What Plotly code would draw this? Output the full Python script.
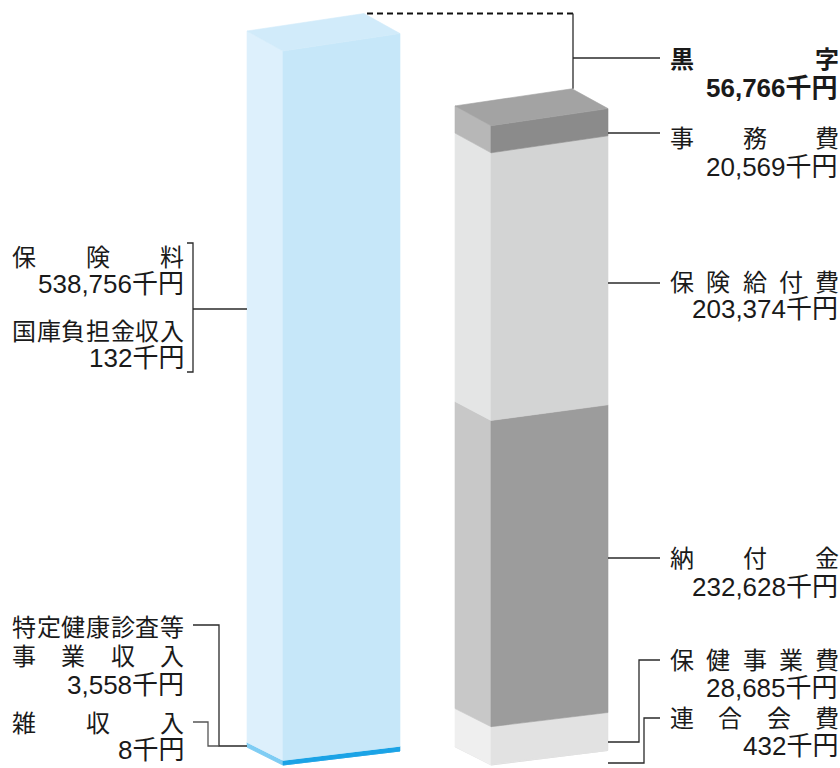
import plotly.graph_objects as go

# ---------------- data (千円) ----------------
income_labels = ["保険料", "国庫負担金収入", "特定健康診査等事業収入", "雑収入"]
income_values = [538756, 132, 3558, 8]
income_value_text = ["538,756千円", "132千円", "3,558千円", "8千円"]

expense_labels = ["事務費", "保険給付費", "納付金", "保健事業費", "連合会費"]
expense_values = [20569, 203374, 232628, 28685, 432]
expense_value_text = ["20,569千円", "203,374千円", "232,628千円", "28,685千円", "432千円"]

surplus_label = "黒字"
surplus_value = 56766
surplus_value_text = "56,766千円"

# ---------------- styles ----------------
income_front = {"保険料": "#C6E7F9", "国庫負担金収入": "#C6E7F9",
                "特定健康診査等事業収入": "#1BA3E6", "雑収入": "#1BA3E6"}
income_side = {"保険料": "#DDF0FC", "国庫負担金収入": "#DDF0FC",
               "特定健康診査等事業収入": "#7FCDF4", "雑収入": "#7FCDF4"}
income_top = "#D1EBFA"

expense_front = {"事務費": "#8B8B8B", "保険給付費": "#D3D4D4", "納付金": "#9C9C9C",
                 "保健事業費": "#E2E2E2", "連合会費": "#D8D8D8"}
expense_side = {"事務費": "#B7B7B7", "保険給付費": "#E4E5E5", "納付金": "#C8C8C8",
                "保健事業費": "#EFEFEF", "連合会費": "#E8E8E8"}
expense_top = "#A3A3A3"

FONT = "Liberation Sans, Noto Sans CJK JP, sans-serif"
FS = 24
FSV = 26
TXT = "#1a1a1a"
LINE = "#2a2a2a"

W, H = 840, 768
BASE_PX = 765.0          # pixel row of value 0
TOTAL_PX = 714.0         # pixel height of the income total
total_income = sum(income_values)
k = TOTAL_PX / total_income          # px per 千円


def px2v(py):
    return (BASE_PX - py) / k


def slope_v(v):   # rise of front face's right edge (perspective), in value units
    return (14.0 + 3.5 * v / total_income) / k


def depth_v(v):   # rise of side face's back edge, in value units
    return (18.0 + 2.0 * v / total_income) / k


fig = go.Figure()


def add_poly(xs, ys, color):
    fig.add_trace(go.Scatter(x=xs + [xs[0]], y=ys + [ys[0]], mode="lines", fill="toself",
                             fillcolor=color, line=dict(width=0.6, color=color),
                             hoverinfo="skip", showlegend=False))


def draw_bar(x_side, x_front, x_right, labels, values, fronts, sides, top_color):
    v0 = 0.0
    segs = []
    for lab, val in zip(labels, values):
        segs.append((lab, v0, v0 + val))
        v0 += val
    for lab, a, b in segs:
        add_poly([x_side, x_front, x_front, x_side],
                 [a + depth_v(a), a, b, b + depth_v(b)], sides[lab])
    for lab, a, b in segs:
        add_poly([x_front, x_right, x_right, x_front],
                 [a, a + slope_v(a), b + slope_v(b), b], fronts[lab])
    t = v0
    add_poly([x_side, x_front, x_right, x_right - (x_front - x_side)],
             [t + depth_v(t), t, t + slope_v(t), t + slope_v(t) + depth_v(t)], top_color)
    return t


# income bar: stacked bottom -> top
inc_order = list(reversed(income_labels))
inc_vals = [income_values[income_labels.index(l)] for l in inc_order]
top_in = draw_bar(247, 283, 400, inc_order, inc_vals, income_front, income_side, income_top)

# expense bar: stacked bottom -> top
exp_order = list(reversed(expense_labels))
exp_vals = [expense_values[expense_labels.index(l)] for l in exp_order]
top_ex = draw_bar(455, 491, 608, exp_order, exp_vals, expense_front, expense_side, expense_top)

# ---------------- leader lines ----------------
def path(points, color=LINE, width=1.3, dash=None):
    d = "M " + " L ".join(f"{x},{px2v(y)}" for x, y in points)
    ln = dict(color=color, width=width)
    if dash:
        ln["dash"] = dash
    fig.add_shape(type="path", path=d, xref="x", yref="y", line=ln)


# surplus: dashed line from income top back corner to above expense bar
back_in_y = BASE_PX - k * (top_in + slope_v(top_in) + depth_v(top_in))
back_ex_y = BASE_PX - k * (top_ex + slope_v(top_ex) + depth_v(top_ex))
path([(367, back_in_y), (573, back_in_y)], color="#111", width=2, dash="6px,4px")
path([(573, back_in_y), (573, back_ex_y)])
path([(573, 58), (660, 58)])

# left side
path([(187, 243), (193, 243), (193, 372), (187, 372)])
path([(193, 309), (247, 309)])
path([(193, 625), (219, 625), (219, 746), (247, 746)])
path([(193, 722), (208, 722), (208, 746), (219, 746)], color="#555")

# right side
path([(608, 133), (660, 133)])
path([(608, 283), (660, 283)])
path([(608, 558), (660, 558)])
path([(660, 660), (639, 660), (639, 742), (608, 742)])
path([(660, 718), (644, 718), (644, 763), (608, 763)])

# ---------------- text ----------------
def spread(text, x0, x1, y, bold=False):
    chars = list(text)
    n = len(chars)
    em = FS
    for i, ch in enumerate(chars):
        if n == 1:
            cx = x0 + em / 2
        else:
            cx = x0 + em / 2 + i * ((x1 - x0 - em) / (n - 1))
        fig.add_annotation(x=cx, y=px2v(y), xref="x", yref="y", text=f"<b>{ch}</b>" if bold else ch,
                           showarrow=False, xanchor="center", yanchor="middle", borderpad=0,
                           font=dict(family=FONT, size=FS, color=TXT))


def right_text(text, xr, y, bold=False):
    fig.add_annotation(x=xr, y=px2v(y), xref="x", yref="y", text=f"<b>{text}</b>" if bold else text,
                       showarrow=False, xanchor="right", yanchor="middle", borderpad=0,
                       font=dict(family=FONT, size=FSV, color=TXT))


LX0, LX1 = 12, 184
RX0, RX1 = 670, 839

# left labels
spread(income_labels[0], LX0, LX1, 257)
right_text(income_value_text[0], LX1 + 1, 284)
spread(income_labels[1], LX0, LX1, 331)
right_text(income_value_text[1], LX1 + 1, 358)
lab = income_labels[2]
spread(lab[:7], LX0, LX1, 627)
spread(lab[7:], LX0, LX1, 656)
right_text(income_value_text[2], LX1 + 1, 685)
spread(income_labels[3], LX0, LX1, 723)
right_text(income_value_text[3], LX1 + 1, 750)

# right labels
spread(surplus_label, RX0, RX1, 59, bold=True)
right_text(surplus_value_text, RX1, 88, bold=True)
ys = [(138, 167), (282, 309), (558, 587), (660, 688), (718, 746)]
for (lab, vt), (y1, y2) in zip(zip(expense_labels, expense_value_text), ys):
    spread(lab, RX0, RX1, y1)
    right_text(vt, RX1, y2)

fig.update_layout(
    width=W, height=H, margin=dict(l=0, r=0, t=0, b=0),
    paper_bgcolor="white", plot_bgcolor="white", showlegend=False,
    xaxis=dict(range=[0, W], visible=False, fixedrange=True),
    yaxis=dict(range=[px2v(H), px2v(0)], visible=False, fixedrange=True),
)
fig.write_html("out.html")
